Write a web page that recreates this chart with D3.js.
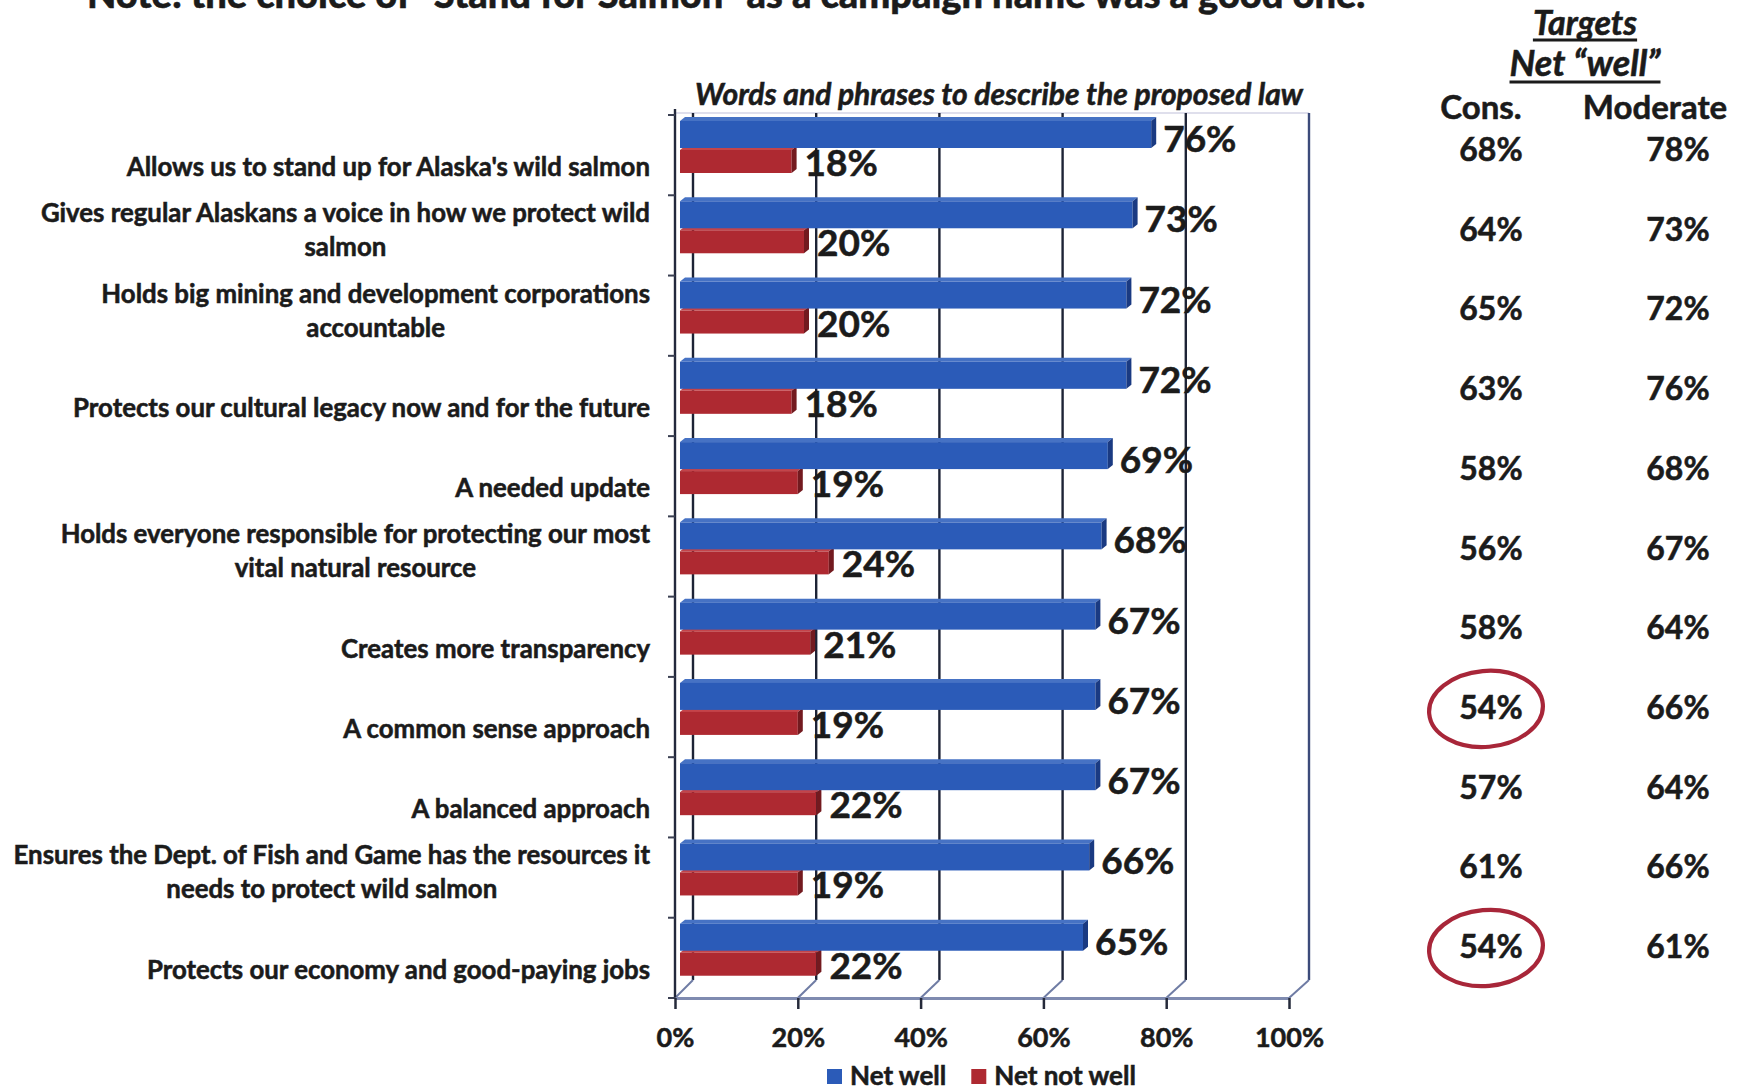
<!DOCTYPE html>
<html>
<head>
<meta charset="utf-8">
<script src="https://cdn.jsdelivr.net/npm/d3@7"></script>
<style>
  body { margin: 0; background: #ffffff; }
  svg text {
    font-family: Lato, "Open Sans", sans-serif; font-weight: 700; fill: #1b1b1b;
    stroke: #1b1b1b; stroke-width: 0.55px; paint-order: stroke;
  }
</style>
</head>
<body>
<svg id="chart" width="1743" height="1091"></svg>
<script>
// ---- data ----
const categories = [
  ["Allows us to stand up for Alaska's wild salmon"],
  ["Gives regular Alaskans a voice in how we protect wild", "salmon"],
  ["Holds big mining and development corporations", "accountable"],
  ["Protects our cultural legacy now and for the future"],
  ["A needed update"],
  ["Holds everyone responsible for protecting our most", "vital natural resource"],
  ["Creates more transparency"],
  ["A common sense approach"],
  ["A balanced approach"],
  ["Ensures the Dept. of Fish and Game has the resources it", "needs to protect wild salmon"],
  ["Protects our economy and good-paying jobs"]
];
const netWell    = [76, 73, 72, 72, 69, 68, 67, 67, 67, 66, 65];
const netNotWell = [18, 20, 20, 18, 19, 24, 21, 19, 22, 19, 22];
const consTargets     = [68, 64, 65, 63, 58, 56, 58, 54, 57, 61, 54];
const moderateTargets = [78, 73, 72, 76, 68, 67, 64, 66, 64, 66, 61];
const xTicks = [0, 20, 40, 60, 80, 100];
const seriesNames = ["Net well", "Net not well"];
const pageTitle = "Note: the choice of \u201CStand for Salmon\u201D as a campaign name was a good one.";
const chartTitle = "Words and phrases to describe the proposed law";
const tableHeads = ["Targets", "Net \u201Cwell\u201D"];
const tableCols = ["Cons.", "Moderate"];

// ---- layout ----
const svg = d3.select("#chart");
const pct = v => v + "%";

const wallTop = 113, floorBack = 980, floorFront = 998;
const depthX = 18;                      // oblique shift of the back wall
const xFront = d3.scaleLinear().domain([0, 100]).range([675, 1289]);
const xBack  = d3.scaleLinear().domain([0, 100]).range([675 + depthX, 1289 + depthX + 2]);
const xBar   = d3.scaleLinear().domain([0, 100]).range([680, 1300]);
const y = d3.scaleBand().domain(d3.range(categories.length)).range([115, floorFront]);
const rowY = d3.scaleLinear().domain([0, categories.length - 1]).range([161, 958]);

const colors = {
  well: "#2b5bb8", wellSide: "#1a3a82", wellTop: "#4672c4",
  notWell: "#ae2931", notWellSide: "#731a1f", notWellTop: "#c4444a"
};

// ---- page title (runs off the top edge) ----
svg.append("text").attr("x", 87).attr("y", 8)
  .style("font-size", "38px").style("font-weight", 900)
  .text(pageTitle);

// ---- chart title ----
svg.append("text").attr("x", 999).attr("y", 105)
  .attr("text-anchor", "middle")
  .style("font-size", "30px").style("font-style", "italic")
  .text(chartTitle);

// ---- 3D frame: top edge, back-wall gridlines, floor diagonals ----
const frame = svg.append("g");
frame.append("line")
  .attr("x1", xFront(0)).attr("x2", xBack(100))
  .attr("y1", wallTop).attr("y2", wallTop)
  .attr("stroke", "#d4d4e6").attr("stroke-width", 1.5);

frame.selectAll(".grid").data(xTicks).join("line")
  .attr("x1", d => xBack(d)).attr("x2", d => xBack(d))
  .attr("y1", wallTop).attr("y2", floorBack)
  .attr("stroke", d => d === 100 ? "#3c4b7a" : "#1d2336")
  .attr("stroke-width", 2.4);

frame.selectAll(".diag").data(xTicks).join("line")
  .attr("x1", d => xBack(d)).attr("x2", d => xFront(d))
  .attr("y1", floorBack).attr("y2", floorFront)
  .attr("stroke", "#6f7ca4").attr("stroke-width", 2);

// left (category) axis line with ticks on the band boundaries
frame.append("line")
  .attr("x1", xFront(0)).attr("x2", xFront(0))
  .attr("y1", wallTop - 4).attr("y2", floorFront)
  .attr("stroke", "#23293c").attr("stroke-width", 2.4);
const bounds = d3.range(categories.length + 1).map(i => y.range()[0] + i * y.step());
frame.selectAll(".ytick").data(bounds).join("line")
  .attr("x1", xFront(0) - 7).attr("x2", xFront(0))
  .attr("y1", d => d).attr("y2", d => d)
  .attr("stroke", "#3a3f52").attr("stroke-width", 2);

// ---- value axis along the front edge of the floor ----
const xAxis = d3.axisBottom(xFront).tickValues(xTicks).tickFormat(pct)
  .tickSizeInner(11).tickSizeOuter(0);
const ax = svg.append("g").attr("transform", `translate(0,${floorFront})`).call(xAxis);
ax.select(".domain").attr("stroke", "#7f8bb0").attr("stroke-width", 3);
ax.selectAll(".tick line").attr("stroke", "#252a3a").attr("stroke-width", 2.5);
ax.selectAll(".tick text")
  .attr("y", 49).attr("dy", 0)
  .style("font-size", "27px").style("font-family", "Lato, sans-serif")
  .style("font-weight", 700).attr("fill", "#1b1b1b");

// ---- bars (front face, top face, end face) ----
const bd = 5, bdy = 4;   // bar depth in x / y
function drawBar(g, v, top, h, fill, side, topFill) {
  const x0 = xBar(0), x1 = xBar(v);
  g.append("polygon")
    .attr("points", [[x0, top], [x0 + bd, top - bdy], [x1 + bd, top - bdy], [x1, top]].join(" "))
    .attr("fill", topFill);
  g.append("rect").attr("x", x0).attr("y", top).attr("width", x1 - x0).attr("height", h)
    .attr("fill", fill);
  g.append("polygon")
    .attr("points", [[x1, top], [x1 + bd, top - bdy], [x1 + bd, top + h - bdy], [x1, top + h]].join(" "))
    .attr("fill", side);
}
const bars = svg.append("g");
categories.forEach((c, i) => {
  const g = bars.append("g");
  drawBar(g, netNotWell[i], y(i) + 35, 23, colors.notWell, colors.notWellSide, colors.notWellTop);
  drawBar(g, netWell[i], y(i) + 6, 27, colors.well, colors.wellSide, colors.wellTop);
});

// ---- data labels ----
const labels = svg.append("g").style("font-size", "37px");
labels.selectAll(".lw").data(netWell).join("text")
  .attr("x", d => xBar(d) + 12).attr("y", (d, i) => y(i) + 37)
  .text(pct);
labels.selectAll(".ln").data(netNotWell).join("text")
  .attr("x", d => xBar(d) + 13).attr("y", (d, i) => y(i) + 61)
  .text(pct);

// ---- category labels: block right-aligned, lines centred within it ----
const catG = svg.append("g").style("font-size", "25.8px");
const labelRight = 650, lineH = 34;
categories.forEach((lines, i) => {
  const t = catG.append("g");
  const texts = lines.map((s, k) => t.append("text")
    .attr("y", y(i) + 61 - (lines.length - 1 - k) * lineH).text(s));
  const widths = texts.map(n => n.node().getComputedTextLength());
  const mid = labelRight - d3.max(widths) / 2;
  texts.forEach(n => n.attr("x", mid).attr("text-anchor", "middle"));
});

// ---- side table of target-group results ----
const consX = 1491, modX = 1678;
const table = svg.append("g");
const heads = table.selectAll(".head").data(tableHeads).join("text")
  .attr("x", 1585).attr("y", (d, i) => 35 + i * 41)
  .attr("text-anchor", "middle")
  .style("font-size", (d, i) => i === 0 ? "34px" : "36px").style("font-style", "italic")
  .text(d => d);
heads.each(function (d, i) {
  const w = this.getComputedTextLength();
  table.append("line")
    .attr("x1", 1585 - w / 2).attr("x2", 1585 + w / 2)
    .attr("y1", 40 + i * 42).attr("y2", 40 + i * 42)
    .attr("stroke", "#1b1b1b").attr("stroke-width", 2.8);
});
table.selectAll(".col").data(tableCols).join("text")
  .attr("x", (d, i) => i === 0 ? 1481 : 1655).attr("y", 119)
  .attr("text-anchor", "middle").style("font-size", "33px")
  .text(d => d);
table.selectAll(".cv").data(consTargets).join("text")
  .attr("x", consX).attr("y", (d, i) => rowY(i))
  .attr("text-anchor", "middle").style("font-size", "32px").text(pct);
table.selectAll(".mv").data(moderateTargets).join("text")
  .attr("x", modX).attr("y", (d, i) => rowY(i))
  .attr("text-anchor", "middle").style("font-size", "32px").text(pct);

// circle the weakest conservative results
const lowest = d3.min(consTargets);
table.selectAll(".ring").data(consTargets.map((v, i) => ({ v, i })).filter(d => d.v === lowest))
  .join("ellipse")
  .attr("cx", consX - 5).attr("cy", d => rowY(d.i) - 10)
  .attr("rx", 57).attr("ry", 38)
  .attr("transform", d => `rotate(-5 ${consX - 5} ${rowY(d.i) - 10})`)
  .attr("fill", "none").attr("stroke", "#a82639").attr("stroke-width", 4.2);

// ---- legend ----
const legend = svg.append("g").style("font-size", "26px");
let lx = 827;
seriesNames.forEach((name, k) => {
  legend.append("rect").attr("x", lx).attr("y", 1069).attr("width", 15).attr("height", 15)
    .attr("fill", k === 0 ? colors.well : colors.notWell);
  const t = legend.append("text").attr("x", lx + 23).attr("y", 1085).text(name);
  lx += 23 + t.node().getComputedTextLength() + 25;
});
</script>
</body>
</html>
